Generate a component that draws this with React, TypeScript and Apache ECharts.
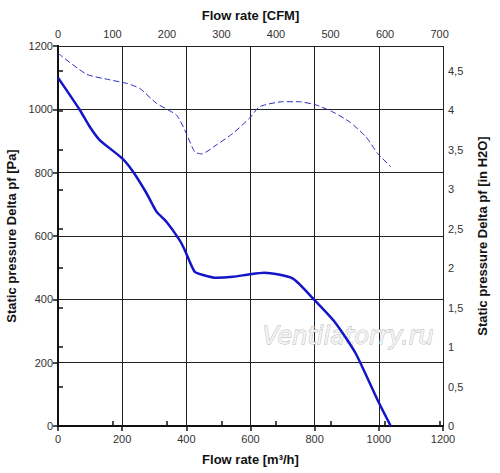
import React, { useEffect, useRef } from "react";
import * as echarts from "echarts";

const solidFlow = [0, 68, 99, 130, 200, 234, 276, 307, 338, 379, 395, 426, 452, 493, 545, 597, 643, 731, 799, 866, 928, 996, 1037];
const solidPa = [1100, 998, 945, 903, 845, 803, 735, 677, 645, 587, 556, 487, 477, 468, 471, 479, 484, 466, 398, 324, 229, 82, 0];
const dashedFlow = [0, 89, 162, 214, 255, 307, 369, 395, 426, 447, 493, 545, 597, 628, 700, 752, 804, 856, 908, 960, 996, 1037];
const dashedPa = [1177, 1111, 1093, 1082, 1066, 1019, 982, 935, 866, 859, 887, 924, 972, 1008, 1024, 1024, 1014, 992, 961, 913, 861, 819];

const FONT = '"Liberation Sans", Arial, sans-serif';

export default function App() {
  const ref = useRef<HTMLDivElement>(null);
  useEffect(() => {
    const chart = echarts.init(ref.current!, null, { renderer: "svg" });
    const axisLine = { show: true, lineStyle: { color: "#111", width: 2 } };
    const axisTick = { show: true, inside: false, length: 5, lineStyle: { color: "#111", width: 1.5 } };
    const splitLine = { show: true, lineStyle: { color: "#222", width: 1 } };
    const axisLabel = { color: "#333", fontSize: 11, fontFamily: FONT };
    const nameTextStyle = { color: "#111", fontSize: 13, fontWeight: "bold" as const, fontFamily: FONT };
    const plain = (v: number) => String(v);
    chart.setOption({
      animation: false,
      backgroundColor: "#fff",
      grid: { left: 58, right: 57, top: 46, bottom: 47, containLabel: false, outerBoundsMode: "none" },
      xAxis: [
        {
          type: "value", position: "bottom", min: 0, max: 1200, interval: 200,
          name: "Flow rate [m³/h]", nameLocation: "middle", nameGap: 27, nameTextStyle,
          axisLine, axisTick, splitLine, axisLabel: { ...axisLabel, margin: 7, formatter: plain },
        },
        {
          type: "value", position: "top", min: 0, max: 706.3, interval: 100,
          name: "Flow rate [CFM]", nameLocation: "middle", nameGap: 24, nameTextStyle,
          axisLine, axisTick, splitLine: { show: false },
          axisLabel: { ...axisLabel, margin: 7, showMaxLabel: false, formatter: plain },
        },
      ],
      yAxis: [
        {
          type: "value", position: "left", min: 0, max: 1200, interval: 200,
          name: "Static pressure Delta pf [Pa]", nameLocation: "middle", nameGap: 36, nameRotate: 90, nameTextStyle,
          axisLine, axisTick, splitLine, axisLabel: { ...axisLabel, margin: 5, formatter: plain },
        },
        {
          type: "value", position: "right", min: 0, max: 4.8175, interval: 0.5,
          name: "Static pressure Delta pf [in H2O]", nameLocation: "middle", nameGap: 33, nameRotate: 90, nameTextStyle,
          axisLine, axisTick, splitLine: { show: false },
          axisLabel: { ...axisLabel, margin: 5, showMaxLabel: false, formatter: (v: number) => String(v).replace(".", ",") },
        },
      ],
      graphic: [
        {
          type: "text", left: 262, top: 324, z: 1, silent: true,
          style: {
            text: "Ventilatorry.ru",
            font: 'italic 24px "DejaVu Sans", sans-serif',
            fill: "#f3f3f3",
            stroke: "#b0b0b0",
            lineWidth: 0.8,
          },
        },
      ],
      series: [
        {
          type: "line", xAxisIndex: 0, yAxisIndex: 0, smooth: 0.2, symbol: "none",
          data: solidFlow.map((x, i) => [x, solidPa[i]]),
          lineStyle: { color: "#1414c8", width: 2.5 },
          z: 5,
        },
        {
          type: "line", xAxisIndex: 0, yAxisIndex: 0, smooth: 0.2, symbol: "none",
          data: dashedFlow.map((x, i) => [x, dashedPa[i]]),
          lineStyle: { color: "#2a2ac8", width: 1, type: [6, 3] },
          z: 5,
        },
      ],
    });
    return () => chart.dispose();
  }, []);
  return <div ref={ref} style={{ width: 500, height: 473, position: "absolute", left: 0, top: 0 }} />;
}
